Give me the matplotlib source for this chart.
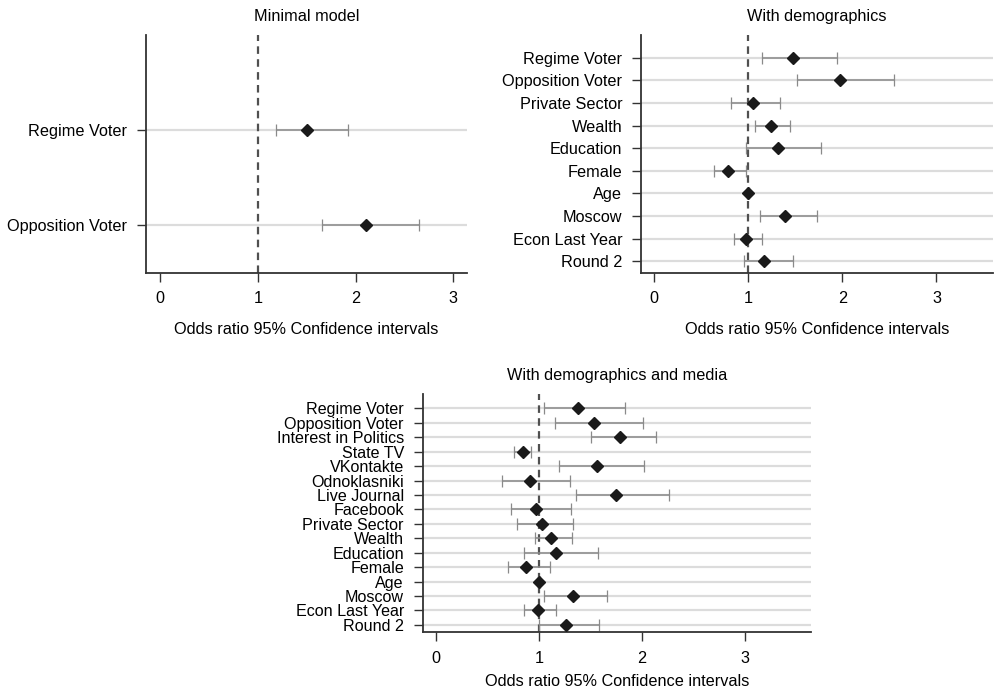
import numpy as np
import matplotlib
matplotlib.use("Agg")
import matplotlib.pyplot as plt

plt.rcParams['font.family'] = ['Liberation Sans', 'DejaVu Sans']

# 数据：点估计与95%置信区间
labels_min = ["Regime Voter", "Opposition Voter"]
or_min = [1.50, 2.11]
lo_min = [1.18, 1.66]
hi_min = [1.92, 2.65]

labels_demo = ["Regime Voter", "Opposition Voter", "Private Sector", "Wealth",
               "Education", "Female", "Age", "Moscow", "Econ Last Year", "Round 2"]
or_demo = [1.48, 1.97, 1.045, 1.24, 1.32, 0.78, 1.00, 1.385, 0.98, 1.17]
lo_demo = [1.15, 1.52, 0.82, 1.07, 0.98, 0.64, 0.99, 1.12, 0.85, 0.95]
hi_demo = [1.94, 2.55, 1.34, 1.44, 1.77, 0.98, 1.01, 1.73, 1.15, 1.47]

labels_media = ["Regime Voter", "Opposition Voter", "Interest in Politics", "State TV",
                "VKontakte", "Odnoklasniki", "Live Journal", "Facebook", "Private Sector",
                "Wealth", "Education", "Female", "Age", "Moscow", "Econ Last Year", "Round 2"]
or_media = [1.38, 1.53, 1.79, 0.84, 1.56, 0.91, 1.75, 0.97, 1.03, 1.12, 1.165, 0.87,
            1.00, 1.33, 0.99, 1.26]
lo_media = [1.045, 1.15, 1.50, 0.76, 1.19, 0.64, 1.36, 0.73, 0.79, 0.96, 0.85, 0.70,
            0.99, 1.05, 0.85, 1.00]
hi_media = [1.83, 2.01, 2.14, 0.92, 2.02, 1.30, 2.26, 1.31, 1.33, 1.315, 1.57, 1.11,
            1.01, 1.66, 1.16, 1.58]

xticks = [0, 1, 2, 3]


def coef_panel(ax, labels, est, lo, hi, title, xlim, lab_size, xlabpad):
    n = len(labels)
    y = np.arange(1, n + 1)
    est = np.array(est)
    lo = np.array(lo)
    hi = np.array(hi)

    # 浅灰色横线
    for yy in y:
        ax.axhline(yy, color="#dcdcdc", lw=1.6, zorder=0)
    ax.axvline(1, color="#505050", lw=1.6, ls=(0, (3.4, 2.4)), zorder=1)
    ax.errorbar(est, y, xerr=[est - lo, hi - est], fmt="none", ecolor="#8a8a8a",
                elinewidth=1.1, capsize=4, capthick=0.9, zorder=2)
    ax.plot(est, y, "D", color="#1a1a1a", ms=6.3, zorder=3)

    ax.set_ylim(n + 0.5, 0)
    ax.set_xlim(*xlim)
    ax.set_yticks(y)
    ax.set_yticklabels(labels, fontsize=lab_size)
    ax.set_xticks(xticks)
    ax.set_xticklabels([str(t) for t in xticks], fontsize=11.7)
    ax.tick_params(axis="both", direction="out", length=6.5, width=1.0, color="#333333")
    ax.tick_params(axis="y", pad=7)
    ax.tick_params(axis="x", pad=7)
    for s in ["top", "right"]:
        ax.spines[s].set_visible(False)
    for s in ["left", "bottom"]:
        ax.spines[s].set_color("#333333")
        ax.spines[s].set_linewidth(1.3)
    ax.set_title(title, fontsize=11.7, pad=10)
    ax.set_xlabel("Odds ratio 95% Confidence intervals", fontsize=11.7, labelpad=xlabpad)


fig = plt.figure(figsize=(9.94, 6.91), dpi=100)

ax1 = fig.add_axes([0.1466, 0.6054, 0.323, 0.344])
coef_panel(ax1, labels_min, or_min, lo_min, hi_min, "Minimal model", (-0.15, 3.14), 11.7, 11)

ax2 = fig.add_axes([0.6449, 0.6054, 0.354, 0.344])
coef_panel(ax2, labels_demo, or_demo, lo_demo, hi_demo, "With demographics", (-0.14, 3.6),
           11.7, 11)

ax3 = fig.add_axes([0.4252, 0.0854, 0.3907, 0.3444])
coef_panel(ax3, labels_media, or_media, lo_media, hi_media, "With demographics and media",
           (-0.13, 3.64), 11.6, 6)

fig.savefig("out.png", dpi=100)
